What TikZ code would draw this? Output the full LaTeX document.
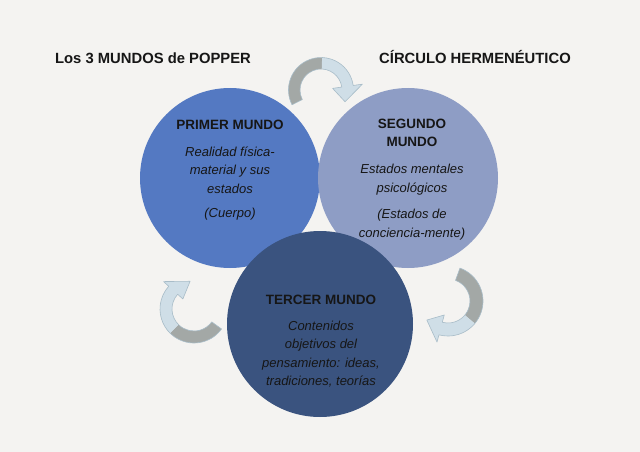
\documentclass[tikz,border=0pt]{standalone}
\usepackage{fontspec}
\setmainfont{Liberation Sans}
\usetikzlibrary{calc}
\definecolor{fondo}{RGB}{244,243,241}
\definecolor{mundoA}{RGB}{84,121,194}
\definecolor{mundoB}{RGB}{142,157,197}
\definecolor{mundoC}{RGB}{58,83,127}
\definecolor{flechaGris}{RGB}{163,168,166}
\definecolor{flechaAzul}{RGB}{207,222,231}
\definecolor{flechaBorde}{RGB}{168,188,200}
\definecolor{texto}{RGB}{22,22,22}
% flecha curva: #1 centro, #2 ang. cola, #3 ang. cambio de color, #4 ang. cabeza,
% #5 radio interior, #6 radio exterior, #7 ang. punta, #8 media anchura cabeza
\newcommand{\flechacurva}[8]{%
  \fill[flechaGris] ($(#1)+(#2:#6)$) arc[start angle=#2, end angle=#3, radius=#6]
    -- ($(#1)+(#3:#5)$) arc[start angle=#3, end angle=#2, radius=#5] -- cycle;
  \fill[flechaAzul] ($(#1)+(#3:#6)$) arc[start angle=#3, end angle=#4, radius=#6]
    -- ($(#1)+(#4:{(#5+#6)/2+#8})$) -- ($(#1)+(#7:{(#5+#6)/2})$)
    -- ($(#1)+(#4:{(#5+#6)/2-#8})$) -- ($(#1)+(#4:#5)$)
    arc[start angle=#4, end angle=#3, radius=#5] -- cycle;
  \draw[flecha] ($(#1)+(#2:#6)$) arc[start angle=#2, end angle=#4, radius=#6]
    -- ($(#1)+(#4:{(#5+#6)/2+#8})$) -- ($(#1)+(#7:{(#5+#6)/2})$)
    -- ($(#1)+(#4:{(#5+#6)/2-#8})$) -- ($(#1)+(#4:#5)$)
    arc[start angle=#4, end angle=#2, radius=#5] -- cycle;}

\begin{document}
\begin{tikzpicture}[x=1pt, y=-1pt,
    mundo/.style={circle, minimum size=#1, inner sep=0pt},
    titulo/.style={font=\fontsize{14.8}{17}\selectfont\bfseries, text=texto, anchor=base},
    cabeza/.style={font=\fontsize{13.5}{18}\selectfont\bfseries, text=texto,
                   align=center, anchor=base, inner sep=0pt},
    cuerpo/.style={font=\fontsize{13}{18.5}\selectfont\itshape, text=texto,
                   align=center, anchor=base, inner sep=0pt},
    flecha/.style={draw=flechaBorde, line width=0.6pt, line join=round}]
  \fill[fondo] (0,0) rectangle (640,452);
  \useasboundingbox (0,0) rectangle (640,452);
  % Titulos
  \node[titulo] (popper) at (153,63.5) {Los 3 MUNDOS de POPPER};
  \node[titulo] (circulo) at (475,63.5) {CÍRCULO HERMENÉUTICO};
  % Los tres mundos
  \node[mundo=180pt, fill=mundoA] (primer) at (230,178) {};
  \node[mundo=180pt, fill=mundoB] (segundo) at (408,178) {};
  \node[mundo=186pt, fill=mundoC] (tercer) at (320,324) {};
  % Textos de cada mundo (anclados en la ultima linea)
  \node[cabeza] (primerT) at ($(primer)+(0,-49)$) {PRIMER MUNDO};
  \node[cuerpo] (primerC) at ($(primer)+(0,39.5)$)
    {Realidad física-\\material y sus\\estados\\[6pt](Cuerpo)};
  \node[cabeza] (segundoT) at ($(segundo)+(4,-31.5)$) {SEGUNDO\\MUNDO};
  \node[cuerpo] (segundoC) at ($(segundo)+(4,59)$)
    {Estados mentales\\psicológicos\\[8pt](Estados de\\conciencia-mente)};
  \node[cabeza] (tercerT) at ($(tercer)+(1,-19.5)$) {TERCER MUNDO};
  \node[cuerpo] (tercerC) at ($(tercer)+(1,61.5)$)
    {Contenidos\\objetivos del\\pensamiento: ideas,\\tradiciones, teorías};
  % Flechas del circulo hermeneutico
  \coordinate (arcoSup) at (321,90);
  \coordinate (arcoIzq) at (194,309);
  \coordinate (arcoDer) at (448,301);
  \flechacurva{arcoSup}{153}{272}{352}{21}{32.5}{386}{15}
  \flechacurva{arcoIzq}{36}{135}{222}{22}{34}{262}{13}
  \flechacurva{arcoDer}{290}{400}{465}{22}{35}{498}{14}
\end{tikzpicture}
\end{document}
